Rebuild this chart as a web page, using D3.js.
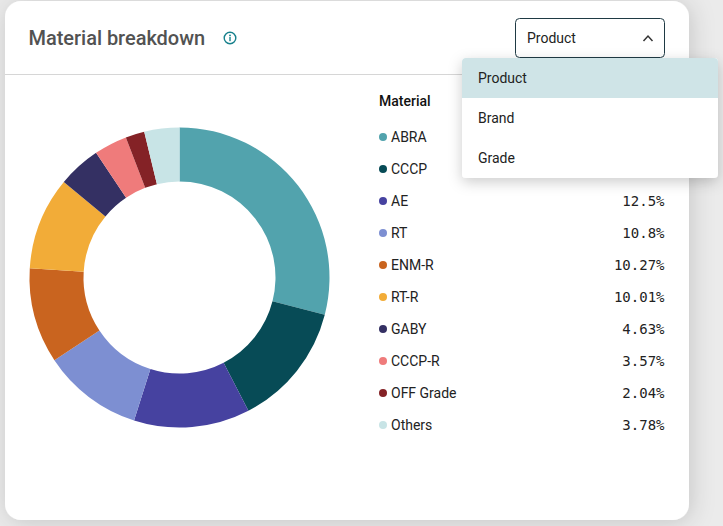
<!DOCTYPE html>
<html><head><meta charset="utf-8">
<script src="https://cdn.jsdelivr.net/npm/d3@7"></script>
<style>
html,body{margin:0;padding:0;background:#fff;overflow:hidden}
svg{display:block}
text{font-family:Roboto,sans-serif}
</style></head><body>
<svg id="c" width="723" height="526"></svg>
<script>
const categories=["ABRA","CCCP","AE","RT","ENM-R","RT-R","GABY","CCCP-R","OFF Grade","Others"];
const values=[29.0,13.4,12.5,10.8,10.27,10.01,4.63,3.57,2.04,3.78];
const valueLabels=["29%","13.4%","12.5%","10.8%","10.27%","10.01%","4.63%","3.57%","2.04%","3.78%"];
const colors=["#52a3ad","#074b56","#4642a0","#7d8fd2","#c9641f","#f2ac38","#343063","#ef7b7b","#842226","#c8e4e6"];
const menuOptions=["Product","Brand","Grade"];
const title="Material breakdown";
const legendTitle="Material";
const svg=d3.select("#c");
const defs=svg.append("defs");
const f1=defs.append("filter").attr("id","cardShadow").attr("x","-10%").attr("y","-10%").attr("width","125%").attr("height","125%");
f1.append("feDropShadow").attr("dx",2).attr("dy",2).attr("stdDeviation",12).attr("flood-color","#000").attr("flood-opacity",0.16);
const f2=defs.append("filter").attr("id","menuShadow").attr("x","-10%").attr("y","-20%").attr("width","120%").attr("height","150%");
f2.append("feDropShadow").attr("dx",0).attr("dy",4).attr("stdDeviation",7).attr("flood-color","#000").attr("flood-opacity",0.2);
svg.append("rect").attr("width",723).attr("height",526).attr("fill","#ebebeb");
svg.append("rect").attr("x",5).attr("y",1).attr("width",684).attr("height",519).attr("rx",16).attr("fill","#fff").attr("filter","url(#cardShadow)");
svg.append("line").attr("x1",5).attr("x2",689).attr("y1",74.5).attr("y2",74.5).attr("stroke","#d6d6d6");
svg.append("text").attr("x",28.5).attr("y",45).attr("font-size",20).attr("font-weight",500).attr("fill","#525252").attr("letter-spacing",-0.03).text(title);
const info=svg.append("g").attr("transform","translate(230,38)");
info.append("circle").attr("r",5.8).attr("fill","none").attr("stroke","#17808c").attr("stroke-width",1.4);
info.append("circle").attr("cy",-2.6).attr("r",0.9).attr("fill","#17808c");
info.append("rect").attr("x",-0.7).attr("y",-1).attr("width",1.4).attr("height",4.2).attr("fill","#17808c");
const pie=d3.pie().sort(null).value(d=>d)(values);
const arc=d3.arc().innerRadius(96).outerRadius(150);
svg.append("g").attr("transform","translate(179.5,277.5)").selectAll("path").data(pie).join("path")
 .attr("d",arc).attr("fill",(d,i)=>colors[i]);
svg.append("text").attr("x",379).attr("y",106).attr("font-size",14).attr("font-weight",500).attr("fill","#111").text(legendTitle);
const y=d3.scalePoint().domain(categories).range([137,425]);
const rows=svg.append("g").selectAll("g").data(categories).join("g").attr("transform",d=>`translate(0,${y(d)})`);
rows.append("circle").attr("cx",383).attr("cy",0).attr("r",4).attr("fill",(d,i)=>colors[i]);
rows.append("text").attr("x",391).attr("y",5).attr("font-size",14).attr("fill","#222").text(d=>d);
rows.append("text").attr("x",664.5).attr("y",5).attr("font-size",14).attr("text-anchor","end").attr("fill","#222")
 .style("font-family","'DejaVu Sans Mono',monospace").text((d,i)=>valueLabels[i]);
svg.append("rect").attr("x",515.5).attr("y",18.5).attr("width",149).attr("height",39).attr("rx",4).attr("fill","#fff").attr("stroke","#1f3a44");
svg.append("text").attr("x",527).attr("y",43).attr("font-size",14).attr("fill","#222").text(menuOptions[0]);
svg.append("path").attr("d",d3.line()([[643.5,41],[648,36],[652.5,41]])).attr("fill","none").attr("stroke","#333").attr("stroke-width",1.5);
svg.append("rect").attr("x",462).attr("y",58).attr("width",256).attr("height",120).attr("rx",4).attr("fill","#fff").attr("filter","url(#menuShadow)");
svg.append("path").attr("d","M462,98V62a4,4 0 0 1 4,-4H714a4,4 0 0 1 4,4V98Z").attr("fill","#cfe4e7");
svg.selectAll("text.m").data(menuOptions).join("text").attr("class","m").attr("x",478).attr("y",(d,i)=>83+i*40).attr("font-size",14).attr("fill","#222").text(d=>d);
</script></body></html>
